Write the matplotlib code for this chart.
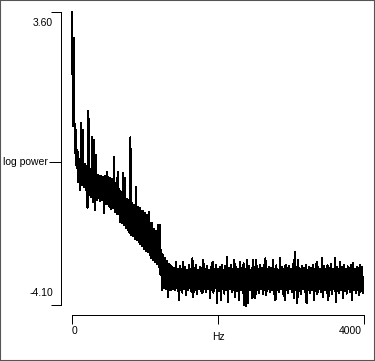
import numpy as np
import matplotlib
matplotlib.use("Agg")
import matplotlib.pyplot as plt
from matplotlib.patches import Rectangle

# spectrum: per 25 Hz bin, the highest and lowest log power
bin_hz = 25
hi = [3.60, 2.92, 0.50, -0.03, -0.25, 0.68, 0.50, -0.40, -0.45, 1.00,
      -0.52, 0.31, 0.24, -0.16, -0.68, -0.72, -0.70, -0.74, -0.70, -0.60,
      -0.74, -0.76, -0.80, -0.21, -0.90, -0.60, -1.05, -1.12, -0.63, -0.76,
      -1.30, -1.33, 0.31, -1.42, -1.46, -1.00, -1.52, -1.55, -1.62, -1.64,
      -1.68, -1.74, -1.66, -1.95, -1.95, -2.10, -2.15, -2.00, -2.00, -2.66,
      -2.79, -2.87, -2.95, -3.02, -3.06, -3.10,
      -3.12, -2.97, -3.15, -3.08, -3.16, -2.97, -3.10, -3.18, -3.06, -3.14,
      -2.87, -3.12, -3.05, -3.17, -3.10, -3.13, -2.92, -3.15, -3.07, -3.18,
      -3.09, -2.97, -3.14, -3.06, -3.16, -3.11, -3.04, -3.17, -3.08, -2.84,
      -3.13, -3.05, -3.15, -2.92, -3.10, -3.16, -2.97, -3.12, -3.00, -3.14,
      -2.92, -3.08, -3.17, -2.92, -3.11, -2.92, -3.15, -3.06, -3.13, -3.04,
      -2.87, -3.16, -3.09, -3.12, -2.92, -3.14, -3.06, -3.17, -2.87, -3.10,
      -3.15, -3.05, -3.12, -3.08, -3.16, -3.03, -2.71, -3.11, -2.92, -3.15,
      -3.07, -3.13, -3.05, -3.17, -3.09, -3.12, -3.04, -3.15, -2.97, -3.10,
      -3.14, -2.87, -3.08, -3.16, -3.06, -3.12, -3.03, -3.15, -2.87, -3.10,
      -3.14, -2.97, -3.11, -3.06, -3.16, -3.08, -3.13, -3.05, -3.00, -3.14,
      -3.09, -3.12, -3.05, -3.10]
lo = [0.60, -0.10, -0.50, -0.87, -1.08, -0.95, -1.00, -1.08, -1.55, -1.22,
      -1.26, -1.40, -1.60, -1.34, -1.30, -1.38, -1.34, -1.68, -1.44, -1.45,
      -1.52, -1.58, -1.55, -1.65, -1.70, -1.72, -1.92, -1.95, -2.00, -2.08,
      -2.12, -2.20, -2.26, -2.30, -2.36, -2.40, -2.45, -2.50, -2.55, -2.62,
      -2.68, -2.72, -2.80, -2.87, -2.92, -2.97, -3.02, -3.10, -3.31, -3.71,
      -3.65, -3.68, -3.89, -3.70, -3.72, -3.68,
      -3.72, -3.66, -3.97, -3.70, -3.78, -3.68, -3.84, -3.72, -3.66, -3.76,
      -3.89, -3.70, -3.80, -3.67, -3.74, -3.79, -3.69, -3.76, -3.68, -3.92,
      -3.71, -3.78, -3.66, -4.05, -3.73, -3.97, -3.69, -3.80, -3.72, -4.02,
      -3.68, -3.77, -3.70, -3.89, -3.74, -3.97, -3.70, -3.79, -4.10, -4.12,
      -4.05, -3.72, -3.92, -3.89, -3.92, -3.70, -3.78, -3.68, -3.81, -3.72,
      -3.84, -3.69, -3.77, -3.71, -3.80, -3.97, -3.70, -3.76, -3.68, -3.82,
      -3.97, -3.72, -3.79, -3.69, -3.75, -3.92, -3.70, -4.05, -3.74, -3.80,
      -3.68, -3.77, -4.05, -3.71, -3.79, -3.70, -3.97, -3.73, -3.81, -3.69,
      -3.76, -3.89, -3.72, -3.78, -3.97, -3.70, -3.80, -3.68, -4.02, -3.74,
      -3.79, -3.70, -3.92, -3.73, -3.80, -3.69, -3.77, -3.97, -3.72, -3.79,
      -3.70, -3.84, -3.74, -3.78]

y_min, y_max = -4.10, 3.60
y_mid = -0.33
x_max = 4000

font = dict(family=["Liberation Sans", "DejaVu Sans"], size=7.5, color="black")
px = 0.72  # one pixel at 100 dpi, in points

freqs = np.arange(len(hi)) * bin_hz
xs = np.empty(2 * len(hi))
ys = np.empty(2 * len(hi))
xs[0::2] = freqs
xs[1::2] = freqs + bin_hz / 2
ys[0::2] = hi
ys[1::2] = lo

fig = plt.figure(figsize=(3.75, 3.61), dpi=100)
ax = fig.add_axes([72 / 375, 56 / 361, 292 / 375, 293 / 361])

ax.plot(xs, ys, color="black", lw=px, antialiased=False, clip_on=False)
ax.set_xlim(0, x_max)
ax.set_ylim(y_min, y_max)

for s in ["top", "right"]:
    ax.spines[s].set_visible(False)
ax.spines["left"].set_position(("outward", 7.7))
ax.spines["bottom"].set_position(("outward", 7.4))
for s in ["left", "bottom"]:
    ax.spines[s].set_linewidth(px)
    ax.spines[s].set_antialiased(False)

ax.set_yticks([y_min, y_max])
ax.set_yticks([y_mid], minor=True)
ax.set_xticks([0, x_max / 2, x_max])
ax.tick_params(axis="y", which="major", direction="out", length=7.2, width=px, labelleft=False)
ax.tick_params(axis="y", which="minor", direction="out", length=8.6, width=px, labelleft=False)
ax.tick_params(axis="x", direction="out", length=6.5, width=px, labelbottom=False)

ycoords = ("axes fraction", "data")
xcoords = ("data", "axes fraction")
ax.annotate("3.60", xy=(0, y_max), xycoords=ycoords, xytext=(-19, -11.5),
            textcoords="offset pixels", ha="right", va="center", **font)
ax.annotate("-4.10", xy=(0, y_min), xycoords=ycoords, xytext=(-19, 12.5),
            textcoords="offset pixels", ha="right", va="center", **font)
ax.annotate("log power", xy=(0, y_mid), xycoords=ycoords, xytext=(-24, 0),
            textcoords="offset pixels", ha="right", va="center", **font)
ax.annotate("0", xy=(0, 0), xycoords=xcoords, xytext=(0, -26.5),
            textcoords="offset pixels", ha="left", va="center", **font)
ax.annotate("Hz", xy=(x_max / 2, 0), xycoords=xcoords, xytext=(0, -32),
            textcoords="offset pixels", ha="center", va="center", **font)
ax.annotate("4000", xy=(x_max, 0), xycoords=xcoords, xytext=(-2, -26.5),
            textcoords="offset pixels", ha="right", va="center", **font)

fig.patches.append(Rectangle((0, 0), 1, 1, transform=fig.transFigure, fill=False,
                             edgecolor="#555555", lw=1.5))

fig.savefig("out.png", dpi=100)
